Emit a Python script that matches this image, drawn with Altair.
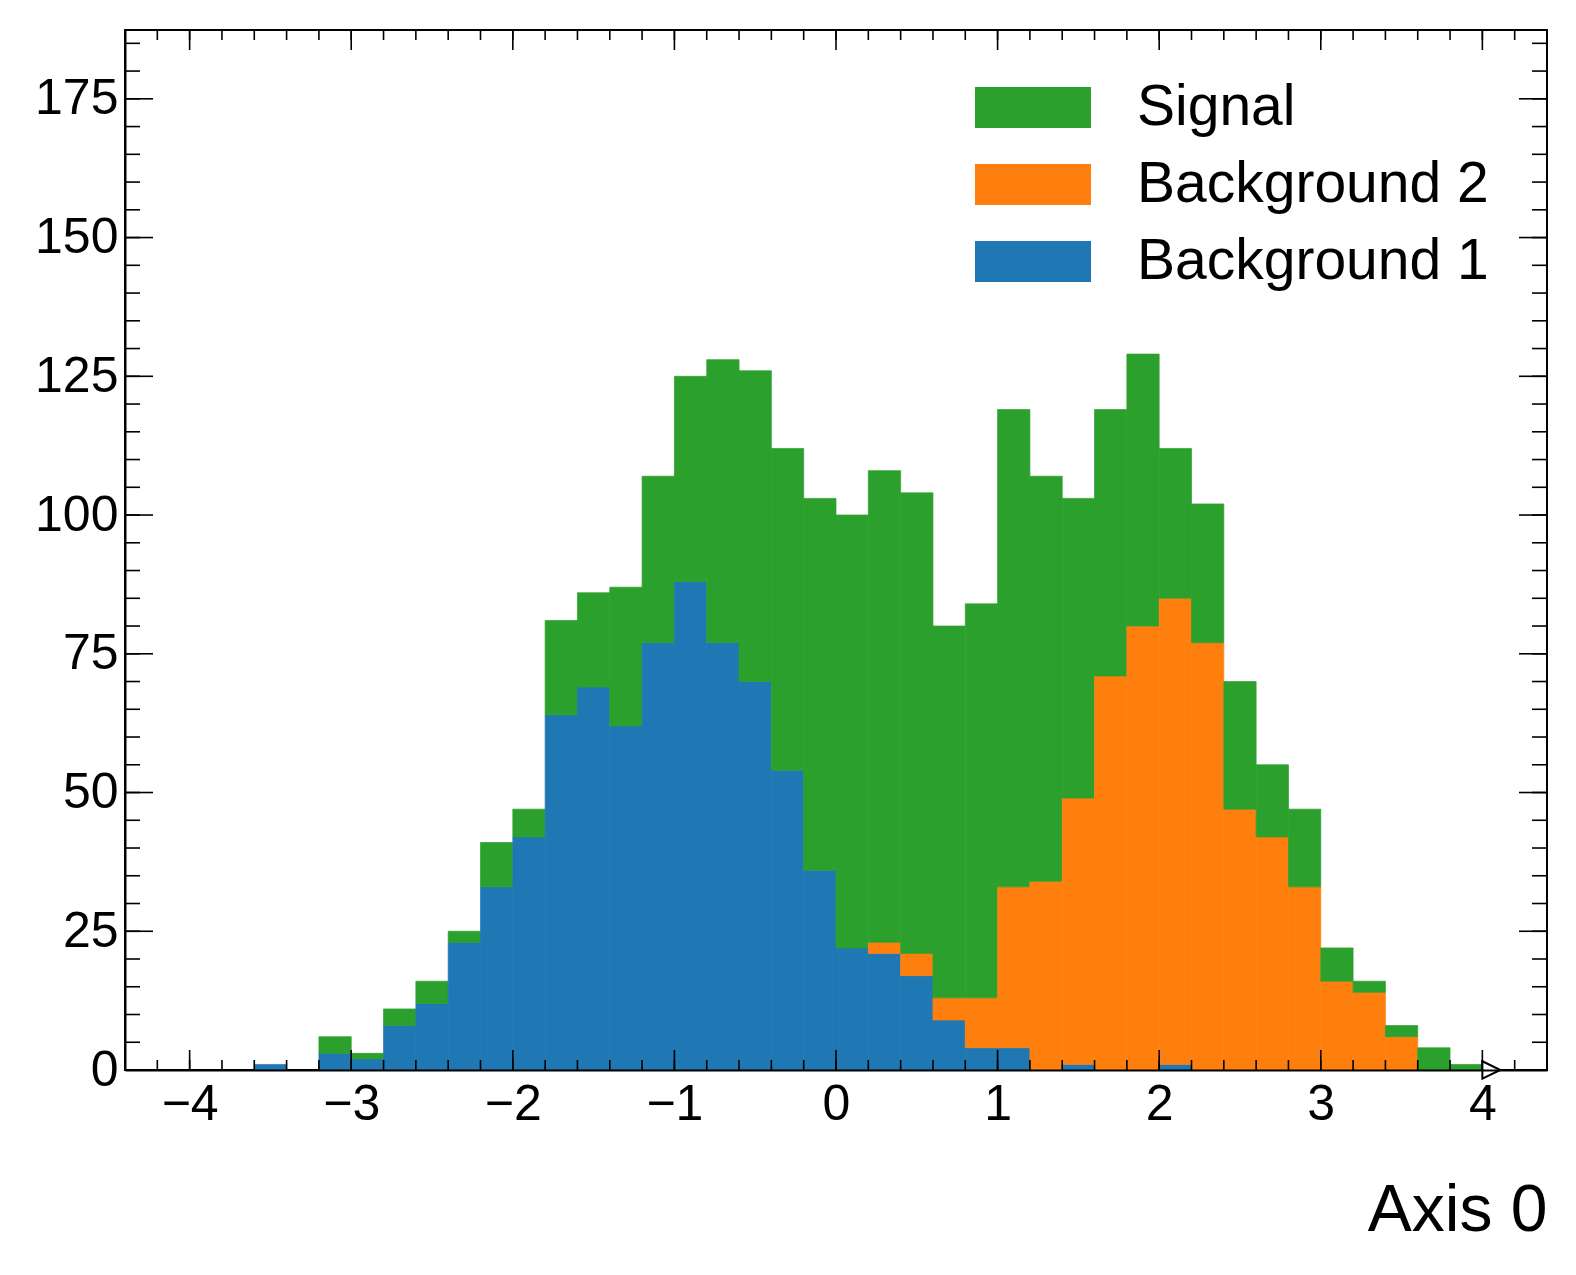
import altair as alt
import pandas as pd

# ---- data ----
BIN_EDGES = [-4.0, -3.8, -3.6, -3.4, -3.2, -3.0, -2.8, -2.6, -2.4, -2.2,
             -2.0, -1.8, -1.6, -1.4, -1.2, -1.0, -0.8, -0.6, -0.4, -0.2,
             0.0, 0.2, 0.4, 0.6, 0.8, 1.0, 1.2, 1.4, 1.6, 1.8,
             2.0, 2.2, 2.4, 2.6, 2.8, 3.0, 3.2, 3.4, 3.6, 3.8, 4.0]
BKG1 = [0, 0, 1, 0, 3, 2, 8, 12, 23, 33,
        42, 64, 69, 62, 77, 88, 77, 70, 54, 36,
        22, 21, 17, 9, 4, 4, 0, 1, 0, 0,
        1, 0, 0, 0, 0, 0, 0, 0, 0, 0]
BKG2 = [0, 0, 0, 0, 0, 0, 0, 0, 0, 0,
        0, 0, 0, 0, 0, 0, 0, 0, 0, 0,
        0, 2, 4, 4, 9, 29, 34, 48, 71, 80,
        84, 77, 47, 42, 33, 16, 14, 6, 0, 0]
SIGNAL = [0, 0, 0, 0, 3, 1, 3, 4, 2, 8,
          5, 17, 17, 25, 30, 37, 51, 56, 58, 67,
          78, 85, 83, 67, 71, 86, 73, 54, 48, 49,
          27, 25, 23, 13, 14, 6, 2, 2, 4, 1]
STACK_NAMES = ["Background 1", "Background 2", "Signal"]
LEGEND_ORDER = ["Signal", "Background 2", "Background 1"]
COLORS = ["#2ca02c", "#ff7f0e", "#1f77b4"]

X_MAJOR = [-4, -3, -2, -1, 0, 1, 2, 3, 4]
X_MINOR = [-4.2, -4.0, -3.8, -3.6, -3.4, -3.2, -3.0, -2.8, -2.6, -2.4, -2.2,
           -2.0, -1.8, -1.6, -1.4, -1.2, -1.0, -0.8, -0.6, -0.4, -0.2,
           0.0, 0.2, 0.4, 0.6, 0.8, 1.0, 1.2, 1.4, 1.6, 1.8,
           2.0, 2.2, 2.4, 2.6, 2.8, 3.0, 3.2, 3.4, 3.6, 3.8, 4.0, 4.2]
Y_MAJOR = [0, 25, 50, 75, 100, 125, 150, 175]
Y_MINOR = [0, 5, 10, 15, 20, 25, 30, 35, 40, 45, 50, 55, 60, 65, 70, 75,
           80, 85, 90, 95, 100, 105, 110, 115, 120, 125, 130, 135, 140, 145,
           150, 155, 160, 165, 170, 175, 180, 185]
FLOW_X = [4.0]
FLOW_Y = [0]
X_TITLE = "Axis 0"

# ---- layout / style ----
W, H = 1422, 1040
FONT = "Liberation Sans"
XS = alt.Scale(domain=[-4.4, 4.4], nice=False, zero=False)
YS = alt.Scale(domain=[0, 187.4], nice=False, zero=False)

X_AXIS = alt.Axis(
    values=X_MAJOR, format="d", ticks=False, domain=True,
    domainColor="black", domainWidth=2, grid=False,
    labelFontSize=50, labelColor="black", labelPadding=9, labelFont=FONT,
    labelFlush=False, labelOverlap=False,
    title=X_TITLE, titleFontSize=66, titleFontWeight="normal",
    titleColor="black", titleFont=FONT, titleX=W, titleY=108,
    titleAlign="right", titleBaseline="top", zindex=1)
Y_AXIS = alt.Axis(
    values=Y_MAJOR, format="d", ticks=False, domain=True,
    domainColor="black", domainWidth=2, grid=False,
    labelFontSize=50, labelColor="black", labelPadding=7, labelFont=FONT,
    labelOverlap=False, title=None, zindex=1)

rows = []
series_vals = [BKG1, BKG2, SIGNAL]
for i in range(len(BIN_EDGES) - 1):
    lo = 0
    for name, vals in zip(STACK_NAMES, series_vals):
        v = vals[i]
        if v > 0:
            rows.append({"x0": BIN_EDGES[i], "x1": BIN_EDGES[i + 1],
                         "lo": lo, "hi": lo + v, "series": name})
        lo += v
bars_df = pd.DataFrame(rows)

color_scale = alt.Scale(domain=LEGEND_ORDER, range=COLORS)

bars = alt.Chart(bars_df).mark_bar(opacity=1, strokeWidth=0.7).encode(
    x=alt.X("x0:Q", scale=XS, axis=X_AXIS),
    x2="x1:Q",
    y=alt.Y("hi:Q", scale=YS, axis=Y_AXIS),
    y2="lo:Q",
    color=alt.Color("series:N", scale=color_scale, legend=alt.Legend(
        title=None, orient="none", legendX=879.5, legendY=49,
        symbolType="M-2.83,-1L2.83,-1L2.83,1L-2.83,1Z", symbolSize=1681,
        symbolStrokeWidth=0, symbolOpacity=1, symbolOffset=0,
        labelFontSize=57, labelFont=FONT, labelColor="black",
        labelOffset=75.5, labelLimit=2000, rowPadding=19, padding=0)),
    stroke=alt.Stroke("series:N", scale=color_scale, legend=None),
)

flow_df = pd.DataFrame({"x": FLOW_X, "y": FLOW_Y})
flow = alt.Chart(flow_df).mark_point(
    shape="M0,-0.97L2,0L0,0.97Z", size=324, filled=True, fill="white",
    stroke="black", strokeWidth=2, opacity=1, fillOpacity=1, strokeOpacity=1
).encode(
    x=alt.X("x:Q", scale=XS, axis=X_AXIS),
    y=alt.Y("y:Q", scale=YS, axis=Y_AXIS),
)


def xticks(vals, y_a, y_b):
    return alt.Chart(pd.DataFrame({"v": vals})).mark_rule(
        color="black", strokeWidth=1.6).encode(
        x=alt.X("v:Q", scale=XS, axis=X_AXIS),
        y=alt.value(y_a), y2=alt.value(y_b))


def yticks(vals, x_a, x_b):
    return alt.Chart(pd.DataFrame({"v": vals})).mark_rule(
        color="black", strokeWidth=1.6).encode(
        y=alt.Y("v:Q", scale=YS, axis=Y_AXIS),
        x=alt.value(x_a), x2=alt.value(x_b))


tick_layers = [
    xticks(X_MINOR, H, H - 10), xticks(X_MAJOR, H, H - 20),
    xticks(X_MINOR, 0, 10), xticks(X_MAJOR, 0, 20),
    yticks(Y_MINOR, 0, 15), yticks(Y_MAJOR, 0, 28),
    yticks(Y_MINOR, W - 15, W), yticks(Y_MAJOR, W - 28, W),
]

chart = alt.layer(bars, *tick_layers, flow).properties(
    width=W, height=H,
    padding={"left": 26, "top": 21, "right": 20, "bottom": 20},
    background="white",
).configure(
    font=FONT
).configure_view(
    stroke="black", strokeWidth=2
)

chart.save("out.html", embed_options={"renderer": "svg", "actions": False})
